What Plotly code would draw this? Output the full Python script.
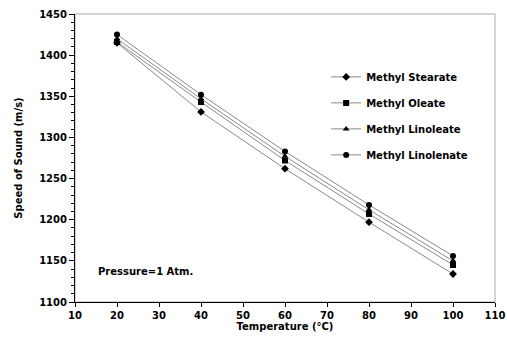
import plotly.graph_objects as go

temperature = [20, 40, 60, 80, 100]
methyl_stearate = [1415, 1331, 1262, 1197, 1134]
methyl_oleate = [1416, 1343, 1272, 1207, 1145]
methyl_linoleate = [1420, 1347, 1277, 1212, 1150]
methyl_linolenate = [1425, 1352, 1283, 1218, 1156]

series = [
    ("Methyl Stearate", methyl_stearate, "diamond"),
    ("Methyl Oleate", methyl_oleate, "square"),
    ("Methyl Linoleate", methyl_linoleate, "triangle-up"),
    ("Methyl Linolenate", methyl_linolenate, "circle"),
]

FONT = "DejaVu Sans"

fig = go.Figure()
for i, (name, vals, sym) in enumerate(series):
    fig.add_trace(go.Scatter(
        x=temperature, y=vals, name=name, mode="lines+markers",
        legendgroup=f"g{i}",
        line=dict(color="#8a8a8a", width=1),
        marker=dict(symbol=sym, size=6, color="black"),
    ))

fig.update_layout(
    width=507, height=347,
    margin=dict(l=75, r=12, t=14, b=45, autoexpand=False),
    paper_bgcolor="white", plot_bgcolor="white",
    font=dict(family=FONT, size=10, color="black"),
    showlegend=True,
    legend=dict(
        x=0.598, y=0.832, xanchor="left", yanchor="top",
        font=dict(family=FONT, size=10, color="black", weight="bold"),
        bgcolor="rgba(0,0,0,0)", tracegroupgap=7,
        itemwidth=30,
    ),
    shapes=[dict(type="rect", xref="paper", yref="paper", x0=0, x1=1, y0=0, y1=1,
                 line=dict(color="#c8c8c8", width=1.5), layer="below")],
    annotations=[dict(
        text="<b>Pressure=1 Atm.</b>", x=0.05, y=0.105, xref="paper", yref="paper",
        xanchor="left", yanchor="middle", showarrow=False,
        font=dict(family=FONT, size=10, color="black"),
    )],
)

fig.update_xaxes(
    range=[10, 110], dtick=10, tick0=10, automargin=False,
    showgrid=False, zeroline=False,
    showline=True, linecolor="black", linewidth=1,
    ticks="outside", ticklen=4, tickcolor="black",
    tickfont=dict(family=FONT, size=10, weight="bold"),
    title=dict(text="<b>Temperature (°C)</b>", font=dict(family=FONT, size=10), standoff=1),
)
fig.update_yaxes(
    range=[1100, 1450], dtick=50, tick0=1100, automargin=False,
    showgrid=False, zeroline=False,
    showline=True, linecolor="black", linewidth=1,
    ticks="outside", ticklen=5, tickcolor="black",
    minor=dict(dtick=10, ticks="outside", ticklen=3, tickcolor="black"),
    tickfont=dict(family=FONT, size=10, weight="bold"),
    title=dict(text="<b>Speed of Sound (m/s)</b>", font=dict(family=FONT, size=10), standoff=14),
)

# remove the browser's default 8px body margin so the figure fills the window
fig.write_html(
    "out.html",
    config={"displayModeBar": False},
    post_script="document.body.style.margin='0';document.body.style.overflow='hidden';",
)
